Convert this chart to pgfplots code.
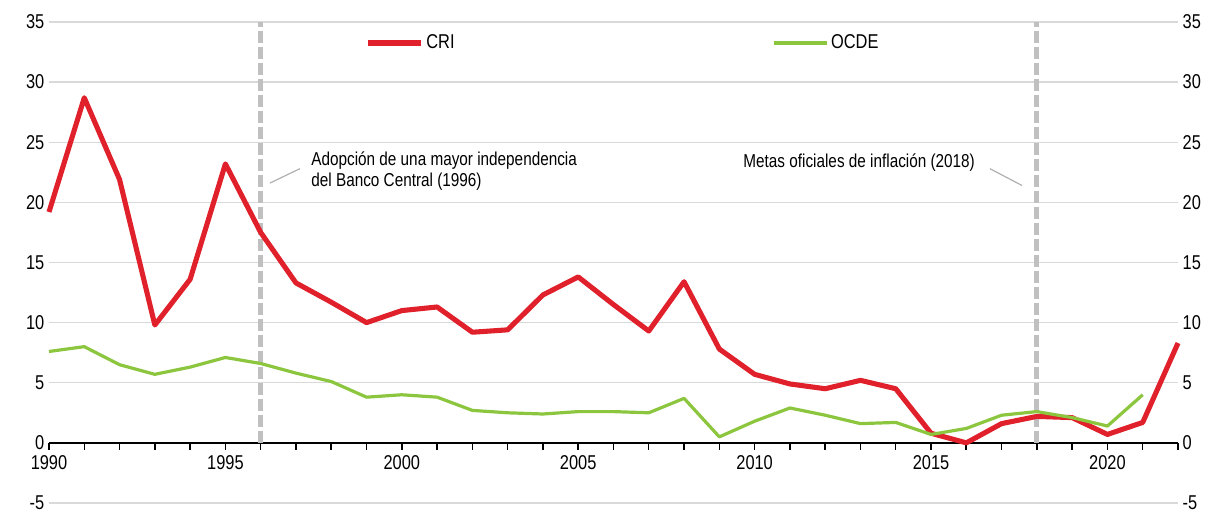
\documentclass[border=0pt]{standalone}
\usepackage{fontspec}
\setmainfont{Liberation Sans}[FakeStretch=0.82]
\usepackage{pgfplots}
\pgfplotsset{compat=1.18}
\definecolor{crired}{HTML}{E0202A}
\definecolor{ocdegreen}{HTML}{8CC63F}
\definecolor{gridgray}{HTML}{D9D9D9}
\definecolor{dashgray}{HTML}{C0C0C0}
\definecolor{leadgray}{HTML}{B0B0B0}

\pgfplotstableread{
year cri
1990 19.2
1991 28.7
1992 21.9
1993 9.8
1994 13.6
1995 23.2
1996 17.5
1997 13.3
1998 11.7
1999 10.0
2000 11.0
2001 11.3
2002 9.2
2003 9.4
2004 12.3
2005 13.8
2006 11.5
2007 9.3
2008 13.4
2009 7.8
2010 5.7
2011 4.9
2012 4.5
2013 5.2
2014 4.5
2015 0.8
2016 0.0
2017 1.6
2018 2.2
2019 2.1
2020 0.7
2021 1.7
2022 8.3
}\cridata

\pgfplotstableread{
year ocde
1990 7.6
1991 8.0
1992 6.5
1993 5.7
1994 6.3
1995 7.1
1996 6.6
1997 5.8
1998 5.1
1999 3.8
2000 4.0
2001 3.8
2002 2.7
2003 2.5
2004 2.4
2005 2.6
2006 2.6
2007 2.5
2008 3.7
2009 0.5
2010 1.8
2011 2.9
2012 2.3
2013 1.6
2014 1.7
2015 0.7
2016 1.2
2017 2.3
2018 2.6
2019 2.1
2020 1.4
2021 4.0
}\ocdedata

\begin{document}
\begin{tikzpicture}
\path (-36.75pt,-7.5pt) rectangle (882pt,377.25pt);
\begin{axis}[
  at={(0,0)}, anchor=south west,
  scale only axis, width=846.75pt, height=360.75pt,
  xmin=1990, xmax=2022, ymin=-5, ymax=35,
  axis x line*=middle, axis y line*=left,
  hide obscured x ticks=false,
  y axis line style={draw=none},
  x axis line style={black, line width=1.5pt},
  ytick={-5,0,...,35},
  ytick style={draw=none},
  ymajorgrids, grid style={color=gridgray, line width=1.1pt},
  xtick={1990,1995,...,2020},
  minor xtick={1991,...,2022},
  xtick style={black, line width=1.1pt},
  minor x tick style={black, line width=1.1pt},
  major tick length=5pt, minor tick length=5pt,
  xtick align=outside,
  xticklabel style={font=\fontsize{15}{18}\selectfont, yshift=-1pt},
  yticklabel style={font=\fontsize{15}{18}\selectfont},
  /pgf/number format/assume math mode=true,
  /pgf/number format/1000 sep={},
  clip=false,
  legend columns=2,
  legend style={draw=none, fill=none, at={(axis description cs:0.2799,0.9563)}, anchor=west,
    inner xsep=0pt, inner ysep=0pt,
    font=\fontsize{15}{18}\selectfont,
    /tikz/every even column/.append style={column sep=236pt},
    nodes={inner sep=2pt}},
  legend image code/.code={\draw[#1] (0pt,0pt) -- (40pt,0pt);},
]
\draw[dashgray, line width=3.6pt, dash pattern=on 9pt off 3pt] (axis cs:1996,0) -- (axis cs:1996,35);
\draw[dashgray, line width=3.6pt, dash pattern=on 9pt off 3pt] (axis cs:2018,0) -- (axis cs:2018,35);
\addplot[crired, line width=3.8pt, line join=round] table[x=year, y=cri] {\cridata};
\addlegendentry{CRI}
\addplot[ocdegreen, line width=2.4pt, line join=round] table[x=year, y=ocde] {\ocdedata};
\addlegendentry{OCDE}
\draw[leadgray, line width=0.9pt] (axis cs:1996.26,21.6) -- (axis cs:1997.11,22.8);
\draw[leadgray, line width=0.9pt] (axis cs:2016.67,22.8) -- (axis cs:2017.58,21.4);
\node[anchor=west, align=left, inner sep=0pt, font=\fontsize{14}{16}\selectfont] at (axis cs:1997.43,22.6)
  {Adopción de una mayor independencia\\del Banco Central (1996)};
\node[anchor=east, inner sep=0pt, font=\fontsize{14}{16}\selectfont] at (axis cs:2016.25,23.35)
  {Metas oficiales de inflación (2018)};
\end{axis}
\begin{axis}[
  at={(0,0)}, anchor=south west,
  scale only axis, width=846.75pt, height=360.75pt,
  xmin=1990, xmax=2022, ymin=-5, ymax=35,
  hide x axis,
  axis y line*=right,
  y axis line style={draw=none},
  ytick={-5,0,...,35},
  ytick style={draw=none},
  yticklabel style={font=\fontsize{15}{18}\selectfont},
  /pgf/number format/assume math mode=true,
]
\addplot[draw=none, forget plot] coordinates {(1990,0)};
\end{axis}
\end{tikzpicture}
\end{document}
